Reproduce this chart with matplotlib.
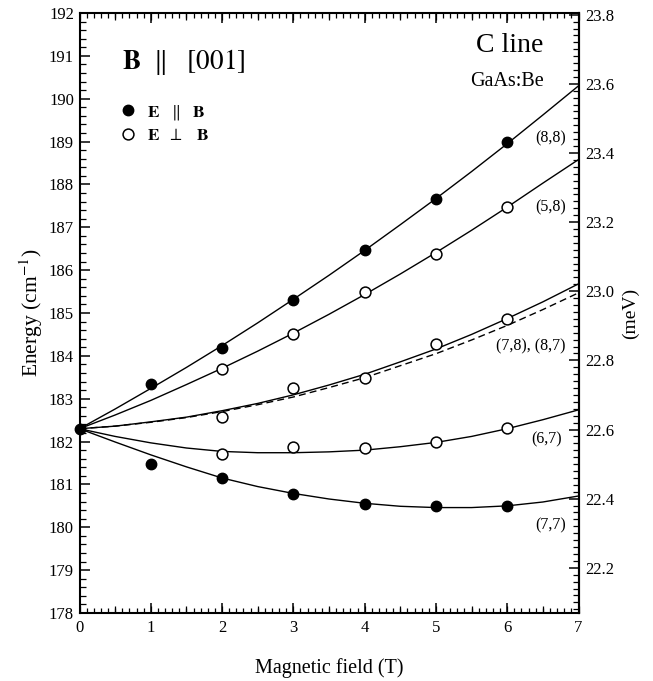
import matplotlib.pyplot as plt
from matplotlib.lines import Line2D
from matplotlib.ticker import MultipleLocator, FormatStrFormatter, NullFormatter

plt.rcParams['font.family'] = ['Liberation Serif', 'DejaVu Serif']
plt.rcParams['mathtext.fontset'] = 'stix'

CM_TO_MEV = 0.123984

# measured line positions (cm^-1)
zero_field = [0]
zero_energy = [182.30]

field_par = [1, 2, 3, 4, 5, 6]
e_88 = [183.34, 184.18, 185.31, 186.46, 187.67, 188.98]
e_77 = [181.48, 181.16, 180.78, 180.54, 180.50, 180.50]

field_perp = [2, 3, 4, 5, 6]
e_58 = [183.69, 184.51, 185.50, 186.37, 187.48]
e_78 = [182.57, 183.25, 183.49, 184.27, 184.87]
e_67 = [181.71, 181.87, 181.84, 182.00, 182.32]

# calculated levels
fit_field = [0, 0.5, 1, 1.5, 2, 2.5, 3, 3.5, 4, 4.5, 5, 5.5, 6, 6.5, 7]
fit_88 = [182.30, 182.76, 183.24, 183.73, 184.24, 184.77, 185.32, 185.88,
          186.46, 187.06, 187.67, 188.30, 188.95, 189.62, 190.30]
fit_58 = [182.30, 182.62, 182.96, 183.33, 183.71, 184.11, 184.53, 184.97,
          185.43, 185.91, 186.41, 186.93, 187.47, 188.03, 188.58]
fit_78 = [182.30, 182.36, 182.46, 182.57, 182.72, 182.89, 183.09, 183.32,
          183.57, 183.86, 184.16, 184.50, 184.87, 185.26, 185.68]
fit_78_alt = [182.30, 182.36, 182.45, 182.56, 182.70, 182.86, 183.04, 183.26,
              183.49, 183.77, 184.05, 184.37, 184.71, 185.08, 185.47]
fit_67 = [182.30, 182.12, 181.97, 181.85, 181.77, 181.74, 181.74, 181.76,
          181.80, 181.88, 181.98, 182.12, 182.30, 182.51, 182.74]
fit_77 = [182.30, 181.99, 181.69, 181.41, 181.15, 180.95, 180.79, 180.66,
          180.56, 180.49, 180.46, 180.46, 180.50, 180.59, 180.73]

fig = plt.figure(figsize=(6.53, 6.81), dpi=100)
ax = fig.add_axes([79.5 / 653, 1 - 613 / 681, 499 / 653, 600 / 681])

for curve in [fit_88, fit_58, fit_78, fit_67, fit_77]:
    ax.plot(fit_field, curve, color='black', lw=1.0)
ax.plot(fit_field, fit_78_alt, color='black', lw=1.0, dashes=(5, 3))

ax.plot(field_par, e_88, 'o', color='black', ms=7.5)
ax.plot(field_par, e_77, 'o', color='black', ms=7.5)
for series in [e_58, e_78, e_67]:
    ax.plot(field_perp, series, 'o', mfc='white', mec='black', mew=1.1, ms=7.8)
ax.plot(zero_field, zero_energy, 'o', color='black', ms=7.5, clip_on=False, zorder=5)

ax.set_xlim(0, 7)
ax.set_ylim(178, 192)
ax.xaxis.set_major_locator(MultipleLocator(1))
ax.xaxis.set_minor_locator(MultipleLocator(0.1))
ax.yaxis.set_major_locator(MultipleLocator(1))
ax.yaxis.set_minor_locator(MultipleLocator(0.2))
ax.tick_params(which='both', direction='in', top=True, right=False, labelsize=12)
ax.tick_params(axis='x', pad=5)
ax.tick_params(axis='y', pad=4)
ax.tick_params(axis='x', which='major', length=7.5, width=1.1)
ax.tick_params(axis='x', which='minor', length=3.3, width=0.9)
ax.tick_params(axis='y', which='major', length=7, width=1.1)
ax.tick_params(axis='y', which='minor', length=4, width=0.9)
for sp in ax.spines.values():
    sp.set_linewidth(1.5)

# half-tesla ticks, a bit longer than the minor ones
for side in ['bottom', 'top']:
    half = ax.secondary_xaxis(side)
    half.xaxis.set_major_locator(MultipleLocator(0.5))
    half.xaxis.set_major_formatter(NullFormatter())
    half.tick_params(direction='in', length=5, width=0.9)
    half.spines[side].set_visible(False)

sec = ax.secondary_yaxis('right', functions=(lambda e: e * CM_TO_MEV,
                                             lambda m: m / CM_TO_MEV))
sec.yaxis.set_major_locator(MultipleLocator(0.2))
sec.yaxis.set_minor_locator(MultipleLocator(0.02))
sec.yaxis.set_major_formatter(FormatStrFormatter('%.1f'))
sec.tick_params(which='both', direction='in', labelsize=12, pad=5)
sec.tick_params(which='major', length=7, width=1.1)
sec.tick_params(which='minor', length=4.3, width=0.9)
sec.spines['right'].set_linewidth(1.5)
sec.set_ylabel('(meV)', fontsize=14, labelpad=5)

ax.set_xlabel('Magnetic field (T)', fontsize=14.5, labelpad=16)
ax.set_ylabel('Energy (cm$^{-1}$)', fontsize=15.5, labelpad=3)

ax.text(0.60, 190.86, r'$\mathbf{B}\ \ \Vert\ \ \ [001]$', fontsize=19.5, va='center')
ax.text(6.51, 191.25, 'C line', fontsize=20, ha='right', va='center')
ax.text(6.51, 190.40, 'GaAs:Be', fontsize=14.5, ha='right', va='center')

label_size = 11.5
ax.text(6.82, 189.08, '(8,8)', fontsize=label_size, ha='right', va='center')
ax.text(6.82, 187.47, '(5,8)', fontsize=label_size, ha='right', va='center')
ax.text(6.82, 184.21, '(7,8), (8,7)', fontsize=label_size, ha='right', va='center')
ax.text(6.77, 182.04, '(6,7)', fontsize=label_size, ha='right', va='center')
ax.text(6.82, 180.05, '(7,7)', fontsize=label_size, ha='right', va='center')

handles = [Line2D([], [], ls='none', marker='o', color='black', ms=7.5),
           Line2D([], [], ls='none', marker='o', mfc='white', mec='black', mew=1.1, ms=7.8)]
labels = [r'$\mathbf{E}\ \ \ \Vert\quad\mathbf{B}$',
          r'$\mathbf{E}\ \ \perp\ \ \ \mathbf{B}$']
ax.legend(handles, labels, loc='upper left', bbox_to_anchor=(0.08, 0.85),
          frameon=False, fontsize=12.5, handlelength=1.0, handletextpad=0.6,
          labelspacing=0.35, borderpad=0, borderaxespad=0)

fig.savefig('out.png', dpi=100)
